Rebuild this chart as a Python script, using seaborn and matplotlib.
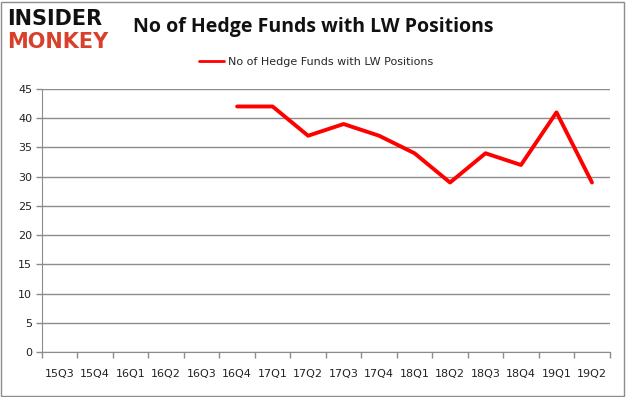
import matplotlib
matplotlib.use("Agg")
import matplotlib.pyplot as plt
import seaborn as sns
import numpy as np
import pandas as pd
from matplotlib.patches import Rectangle

quarters = ["15Q3", "15Q4", "16Q1", "16Q2", "16Q3", "16Q4", "17Q1", "17Q2",
            "17Q3", "17Q4", "18Q1", "18Q2", "18Q3", "18Q4", "19Q1", "19Q2"]
funds = [None, None, None, None, None, 42, 42, 37, 39, 37, 34, 29, 34, 32, 41, 29]
series_name = "No of Hedge Funds with LW Positions"
yticks = [0, 5, 10, 15, 20, 25, 30, 35, 40, 45]

df = pd.DataFrame({"pos": np.arange(len(quarters)), "quarter": quarters,
                   "value": pd.to_numeric(pd.Series(funds), errors="coerce")})
df = df.dropna()

sns.set_style("white")
plt.rcParams["font.family"] = ["DejaVu Sans"]

fig = plt.figure(figsize=(6.26, 3.97), dpi=100)
ax = fig.add_axes([0.067, 0.113, 0.907, 0.663])

sns.lineplot(data=df, x="pos", y="value", ax=ax, color="#ff0000", linewidth=2.8,
             label=series_name, legend=False)

ax.set_xlim(-0.5, len(quarters) - 0.5)
ax.set_ylim(0, 45)
ax.set_yticks(yticks)
ax.set_yticklabels([str(v) for v in yticks], fontsize=8, color="#222222")
ax.yaxis.grid(True, color="#8c8c8c", linewidth=1)
ax.set_axisbelow(True)
ax.set_xticks(np.arange(len(quarters)))
ax.set_xticklabels(quarters, fontsize=8, color="#222222")
ax.set_xticks(np.arange(len(quarters) + 1) - 0.5, minor=True)
ax.tick_params(axis="x", which="major", length=0, pad=12, bottom=True)
ax.tick_params(axis="x", which="minor", length=4, color="#8c8c8c", width=1,
               bottom=True, direction="out")
ax.tick_params(axis="y", length=4, pad=3, left=True, direction="out",
               color="#8c8c8c", width=1)
ax.set_xlabel("")
ax.set_ylabel("")
for s in ["top", "right"]:
    ax.spines[s].set_visible(False)
ax.spines["left"].set_color("#8c8c8c")
ax.spines["bottom"].set_color("#8c8c8c")

handle = plt.Line2D([], [], color="#ff0000", linewidth=2)
fig.legend([handle], [series_name], loc="center", bbox_to_anchor=(0.505, 0.843),
           frameon=False, fontsize=8, handlelength=2.2, handletextpad=0.4)

fig.text(0.5, 0.932, series_name, ha="center", va="center", fontsize=14,
         fontweight="bold", color="#111111", family="Open Sans")
fig.text(0.012, 0.952, "INSIDER", ha="left", va="center", fontsize=15,
         fontweight="heavy", color="#111111", family="DejaVu Sans")
fig.text(0.012, 0.895, "MONKEY", ha="left", va="center", fontsize=15,
         fontweight="heavy", color="#d9402b", family="DejaVu Sans")

fig.patches.append(Rectangle((0.002, 0.003), 0.995, 0.993, transform=fig.transFigure,
                             fill=False, edgecolor="#8c8c8c", linewidth=1))

fig.savefig("out.png", dpi=100)
